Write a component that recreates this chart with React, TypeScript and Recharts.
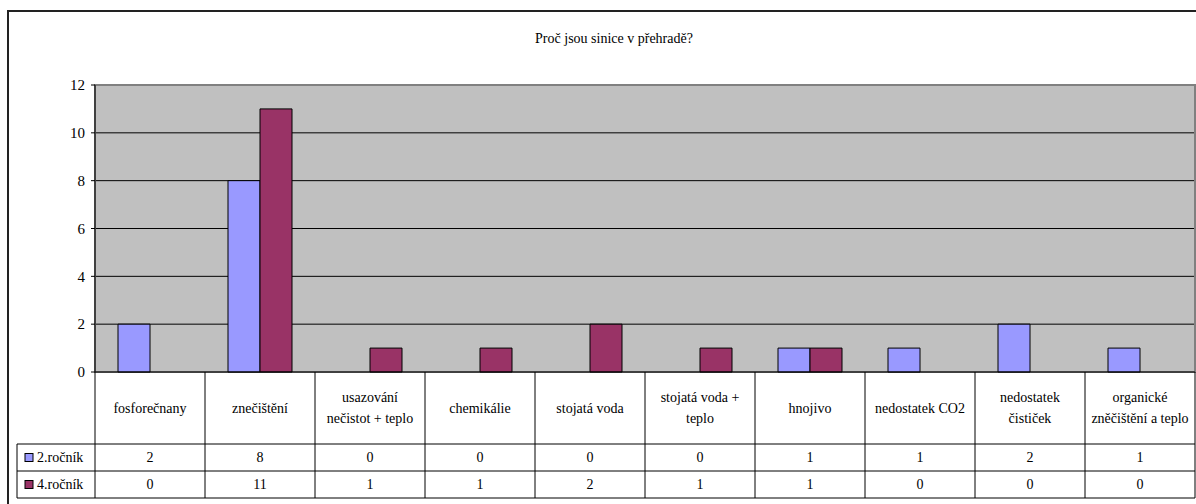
import { Bar, BarChart, CartesianGrid, ReferenceArea, XAxis, YAxis } from 'recharts';

const title = 'Proč jsou sinice v přehradě?';
const categories = [
  'fosforečnany',
  'znečištění',
  'usazování\nnečistot + teplo',
  'chemikálie',
  'stojatá voda',
  'stojatá voda +\nteplo',
  'hnojivo',
  'nedostatek CO2',
  'nedostatek\nčističek',
  'organické\nzněčištění a teplo',
];
const seriesNames = ['2.ročník', '4.ročník'];
const year2 = [2, 8, 0, 0, 0, 0, 1, 1, 2, 1];
const year4 = [0, 11, 1, 1, 2, 1, 1, 0, 0, 0];
const yTicks = [0, 2, 4, 6, 8, 10, 12];

const colors = ['#9999FF', '#993366'];
const font = 'Liberation Serif, Tinos, Times New Roman, DejaVu Serif, serif';

const data = categories.map((name, i) => ({ name, y2: year2[i], y4: year4[i] }));
const series = [
  { key: 'y2', label: seriesNames[0], values: year2 },
  { key: 'y4', label: seriesNames[1], values: year4 },
];

// table row heights (category row, then one row per series)
const CAT_ROW = 72;
const VAL_ROW = 27;
const LEGEND_LEFT = 17;

const TableTick = (props: any) => {
  const { x, y, payload, index } = props;
  const half = payload.offset ?? 55;
  const left = x - half;
  const right = x + half;
  const lines = String(payload.value).split('\n');
  const rowTops = [y + CAT_ROW, y + CAT_ROW + VAL_ROW, y + CAT_ROW + 2 * VAL_ROW];
  const bottom = rowTops[2];
  const catMid = y + CAT_ROW / 2;
  return (
    <g style={{ fontFamily: font }} fontSize={14} fill="#000">
      {/* category cell */}
      {lines.map((line, i) => (
        <text
          key={i}
          x={x}
          y={catMid + (i - (lines.length - 1) / 2) * 21}
          textAnchor="middle"
          dominantBaseline="central"
        >
          {line}
        </text>
      ))}
      {series.map((s, r) => (
        <text
          key={s.key}
          x={x}
          y={rowTops[r] + VAL_ROW / 2}
          textAnchor="middle"
          dominantBaseline="central"
        >
          {s.values[index]}
        </text>
      ))}
      <line x1={right} y1={y} x2={right} y2={bottom} stroke="#000" />
      {rowTops.map((ty, i) => (
        <line key={i} x1={left} y1={ty} x2={right} y2={ty} stroke="#000" />
      ))}
      {index === 0 && (
        <g>
          <line x1={left} y1={y} x2={left} y2={bottom} stroke="#000" />
          <line x1={LEGEND_LEFT} y1={rowTops[0]} x2={LEGEND_LEFT} y2={bottom} stroke="#000" />
          {rowTops.map((ty, i) => (
            <line key={i} x1={LEGEND_LEFT} y1={ty} x2={left} y2={ty} stroke="#000" />
          ))}
          {series.map((s, r) => (
            <g key={s.key}>
              <rect
                x={LEGEND_LEFT + 8}
                y={rowTops[r] + VAL_ROW / 2 - 4}
                width={8}
                height={8}
                fill={colors[r]}
                stroke="#000"
              />
              <text
                x={LEGEND_LEFT + 20}
                y={rowTops[r] + VAL_ROW / 2}
                dominantBaseline="central"
              >
                {s.label}
              </text>
            </g>
          ))}
        </g>
      )}
    </g>
  );
};

export default function App() {
  return (
    <div
      style={{
        position: 'absolute',
        left: 0,
        top: 0,
        width: 1196,
        height: 504,
        overflow: 'hidden',
        background: '#fff',
        fontFamily: font,
      }}
    >
      <div
        style={{
          position: 'absolute',
          left: 7,
          top: 10,
          width: 1220,
          height: 600,
          border: '2px solid #222',
        }}
      />
      <div
        style={{
          position: 'absolute',
          left: 0,
          top: 31,
          width: 1228,
          textAlign: 'center',
          fontSize: 14,
        }}
      >
        {title}
      </div>
      <div style={{ position: 'absolute', left: 0, top: 0 }}>
        <BarChart
          width={1196}
          height={504}
          data={data}
          margin={{ top: 85, right: 1, bottom: 6, left: 55 }}
          barGap={0}
          barSize={32}
        >
          <CartesianGrid
            fill="#C0C0C0"
            fillOpacity={1}
            stroke="#000"
            vertical={false}
          />
          <ReferenceArea y1={0} y2={12} fill="none" stroke="#808080" strokeWidth={2} ifOverflow="visible" />
          <XAxis
            dataKey="name"
            interval={0}
            height={126}
            axisLine={{ stroke: '#000' }}
            tickLine={false}
            tickSize={0}
            tickMargin={0}
            tick={<TableTick />}
          />
          <YAxis
            width={40}
            domain={[0, 12]}
            ticks={yTicks}
            axisLine={{ stroke: '#000' }}
            tickLine={{ stroke: '#000' }}
            tickSize={4}
            tickMargin={6}
            tick={{ fill: '#000', fontSize: 15, style: { fontFamily: font } }}
          />
          <Bar dataKey="y2" name={seriesNames[0]} fill={colors[0]} stroke="#000" isAnimationActive={false} />
          <Bar dataKey="y4" name={seriesNames[1]} fill={colors[1]} stroke="#000" isAnimationActive={false} />
        </BarChart>
      </div>
    </div>
  );
}
